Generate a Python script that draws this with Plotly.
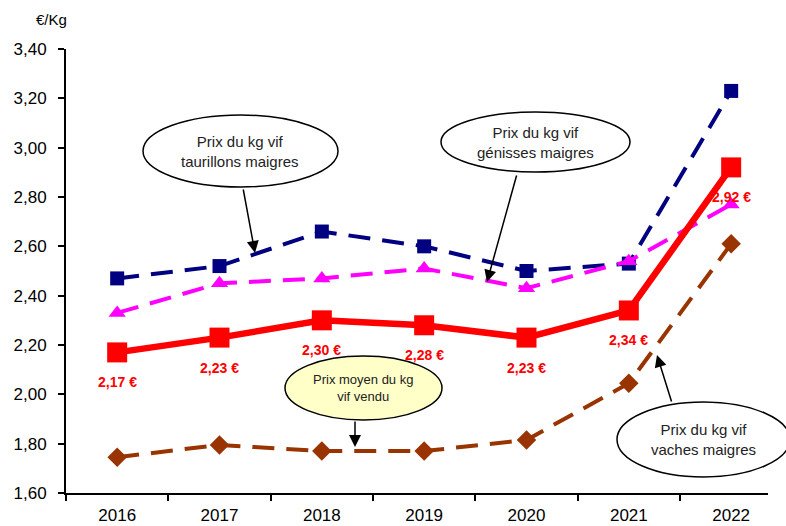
import plotly.graph_objects as go

years = ["2016", "2017", "2018", "2019", "2020", "2021", "2022"]
taurillons = [2.47, 2.52, 2.66, 2.60, 2.50, 2.53, 3.23]
genisses = [2.33, 2.45, 2.47, 2.51, 2.43, 2.54, 2.77]
moyen = [2.17, 2.23, 2.30, 2.28, 2.23, 2.34, 2.92]
vaches = [1.745, 1.795, 1.77, 1.77, 1.815, 2.045, 2.61]
y_ticks = [1.6, 1.8, 2.0, 2.2, 2.4, 2.6, 2.8, 3.0, 3.2, 3.4]
y_ticktext = ["1,60", "1,80", "2,00", "2,20", "2,40", "2,60", "2,80", "3,00", "3,20", "3,40"]

W, H = 786, 526
L, R, T, B = 66, 18, 49, 33
PW, PH = W - L - R, H - T - B


def px(x):
    return (x - L) / PW


def py(y):
    return (H - B - y) / PH


SANS = "Liberation Sans, Arial"
DASH = "22px,12px"

fig = go.Figure()
fig.add_trace(go.Scatter(x=years, y=taurillons, mode="lines+markers",
                         line=dict(color="#000080", width=4, dash=DASH),
                         marker=dict(symbol="square", size=14, color="#000080"),
                         name="taurillons"))
fig.add_trace(go.Scatter(x=years, y=genisses, mode="lines+markers",
                         line=dict(color="#FF00FF", width=4, dash=DASH),
                         marker=dict(symbol="triangle-up", size=15, color="#FF00FF"),
                         name="génisses"))
fig.add_trace(go.Scatter(x=years, y=vaches, mode="lines+markers",
                         line=dict(color="#993300", width=4, dash=DASH),
                         marker=dict(symbol="diamond", size=15, color="#993300"),
                         name="vaches"))
fig.add_trace(go.Scatter(x=years, y=moyen, mode="lines+markers",
                         line=dict(color="#FF0000", width=6.5),
                         marker=dict(symbol="square", size=20, color="#FF0000"),
                         name="moyen"))

annotations = []
for i, yv in enumerate(moyen):
    annotations.append(dict(x=i, y=yv, xref="x", yref="y", yshift=-30,
                            text="<b>" + f"{yv:.2f}".replace(".", ",") + " €</b>",
                            showarrow=False, xanchor="center", yanchor="middle",
                            font=dict(family=SANS, size=14, color="#FF0000")))

annotations.append(dict(x=px(51), y=py(19), xref="paper", yref="paper", text="€/Kg",
                        showarrow=False, xanchor="center", yanchor="middle",
                        font=dict(family=SANS, size=15, color="#000")))

bubbles = [
    # (x0, y0, x1, y1, fill, text, cx, cy, tail, head, fontsize)
    (143, 115, 338, 187, "white", "Prix du kg vif<br>taurillons maigres", 240, 151, (243, 188), (255, 253), 15),
    (441, 112, 630, 172, "white", "Prix du kg vif<br>génisses maigres", 535, 142, (517, 174), (487, 282), 15),
    (285, 356, 442, 420, "#FFFFC8", "Prix moyen du kg<br>vif vendu", 363, 388, (355, 420), (355, 447), 13),
    (617, 402, 790, 477, "white", "Prix du kg vif<br>vaches maigres", 703, 439, (672, 403), (657, 355), 15),
]

shapes = []
for x0, y0, x1, y1, fill, txt, cx, cy, tail, head, fs in bubbles:
    shapes.append(dict(type="circle", xref="paper", yref="paper",
                       x0=px(x0), x1=px(x1), y0=py(y1), y1=py(y0),
                       fillcolor=fill, line=dict(color="black", width=1.5), layer="above"))
    annotations.append(dict(x=px(cx), y=py(cy), xref="paper", yref="paper", text=txt,
                            showarrow=False, xanchor="center", yanchor="middle",
                            font=dict(family=SANS, size=fs, color="#222")))
    annotations.append(dict(x=px(head[0]), y=py(head[1]), xref="paper", yref="paper",
                            ax=tail[0] - head[0], ay=tail[1] - head[1],
                            text="", showarrow=True, arrowhead=2, arrowsize=1.6,
                            arrowwidth=1.5, arrowcolor="black", standoff=0))

fig.update_layout(
    width=W, height=H,
    margin=dict(l=L, r=R, t=T, b=B, autoexpand=False),
    paper_bgcolor="white", plot_bgcolor="white",
    showlegend=False,
    shapes=shapes, annotations=annotations,
    font=dict(family=SANS, size=17, color="#000"),
)
fig.update_xaxes(type="category", range=[-0.5, 6.36], showline=True, linecolor="black", linewidth=2,
                 ticks="outside", tickson="boundaries", ticklen=6, tickwidth=1.5, tickcolor="black",
                 showgrid=False, zeroline=False, tickfont=dict(size=17), automargin=False,
                 ticklabelstandoff=6)
fig.update_yaxes(range=[1.6, 3.4], tickvals=y_ticks, ticktext=y_ticktext, showline=True,
                 linecolor="black", linewidth=2, ticks="outside", ticklen=6, tickwidth=1.5,
                 tickcolor="black", showgrid=False, zeroline=False, tickfont=dict(size=17),
                 automargin=False, ticklabelstandoff=8)

fig.write_html("out.html", config={"displayModeBar": False},
               post_script="document.body.style.margin='0';")
